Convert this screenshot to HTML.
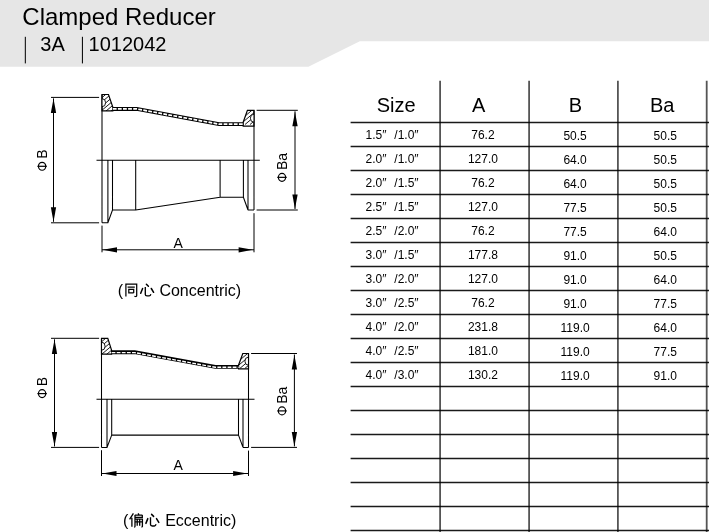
<!DOCTYPE html>
<html><head><meta charset="utf-8"><style>
html,body{margin:0;padding:0;background:#fff;width:709px;height:532px;overflow:hidden}
svg{position:absolute;left:0;top:0;display:block}
text{font-family:"Liberation Sans",sans-serif;fill:#000}
</style></head><body>
<svg width="709" height="532" viewBox="0 0 709 532">
<polygon points="0,0 709,0 709,41.2 359.8,41.2 308.4,66.8 0,66.8" fill="#e6e6e6"/>
<text x="22.3" y="25.2" font-size="24" fill="#111">Clamped Reducer</text>
<rect x="24.8" y="36.8" width="1.1" height="26.6" fill="#111"/>
<text x="40.3" y="51.2" font-size="20" fill="#111">3A</text>
<rect x="81.9" y="36.8" width="1.1" height="26.6" fill="#111"/>
<text x="88.6" y="51.2" font-size="20" fill="#111">1012042</text>
<path d="M350.6 122.5H709 M350.6 146.5H709 M350.6 170.5H709 M350.6 194.5H709 M350.6 218.5H709 M350.6 242.5H709 M350.6 266.5H709 M350.6 290.5H709 M350.6 314.5H709 M350.6 338.5H709 M350.6 362.5H709 M350.6 386.5H709 M350.6 410.5H709 M350.6 434.5H709 M350.6 458.5H709 M350.6 482.5H709 M350.6 506.5H709 M350.6 530.5H709" stroke="#1a1a1a" stroke-width="1.3" fill="none"/>
<path d="M440.1 80.8V532 M529.1 80.8V532 M617.9 80.8V532 M706.7 80.8V532" stroke="#555" stroke-width="1.8" fill="none" style="mix-blend-mode:multiply"/>
<text x="396.2" y="112" font-size="20" text-anchor="middle">Size</text>
<text x="478.7" y="112" font-size="20" text-anchor="middle">A</text>
<text x="575.3" y="112" font-size="20" text-anchor="middle">B</text>
<text x="662.2" y="112" font-size="20" text-anchor="middle">Ba</text>
<text x="365.6" y="139.1" font-size="12">1.5″</text>
<text x="418.6" y="139.1" font-size="12" text-anchor="end">/1.0″</text>
<text x="482.9" y="139.1" font-size="12" text-anchor="middle">76.2</text>
<text x="575.1" y="140.3" font-size="12" text-anchor="middle">50.5</text>
<text x="665.3" y="140.3" font-size="12" text-anchor="middle">50.5</text>
<text x="365.6" y="163.1" font-size="12">2.0″</text>
<text x="418.6" y="163.1" font-size="12" text-anchor="end">/1.0″</text>
<text x="482.9" y="163.1" font-size="12" text-anchor="middle">127.0</text>
<text x="575.1" y="164.3" font-size="12" text-anchor="middle">64.0</text>
<text x="665.3" y="164.3" font-size="12" text-anchor="middle">50.5</text>
<text x="365.6" y="187.1" font-size="12">2.0″</text>
<text x="418.6" y="187.1" font-size="12" text-anchor="end">/1.5″</text>
<text x="482.9" y="187.1" font-size="12" text-anchor="middle">76.2</text>
<text x="575.1" y="188.3" font-size="12" text-anchor="middle">64.0</text>
<text x="665.3" y="188.3" font-size="12" text-anchor="middle">50.5</text>
<text x="365.6" y="211.1" font-size="12">2.5″</text>
<text x="418.6" y="211.1" font-size="12" text-anchor="end">/1.5″</text>
<text x="482.9" y="211.1" font-size="12" text-anchor="middle">127.0</text>
<text x="575.1" y="212.3" font-size="12" text-anchor="middle">77.5</text>
<text x="665.3" y="212.3" font-size="12" text-anchor="middle">50.5</text>
<text x="365.6" y="235.1" font-size="12">2.5″</text>
<text x="418.6" y="235.1" font-size="12" text-anchor="end">/2.0″</text>
<text x="482.9" y="235.1" font-size="12" text-anchor="middle">76.2</text>
<text x="575.1" y="236.3" font-size="12" text-anchor="middle">77.5</text>
<text x="665.3" y="236.3" font-size="12" text-anchor="middle">64.0</text>
<text x="365.6" y="259.1" font-size="12">3.0″</text>
<text x="418.6" y="259.1" font-size="12" text-anchor="end">/1.5″</text>
<text x="482.9" y="259.1" font-size="12" text-anchor="middle">177.8</text>
<text x="575.1" y="260.3" font-size="12" text-anchor="middle">91.0</text>
<text x="665.3" y="260.3" font-size="12" text-anchor="middle">50.5</text>
<text x="365.6" y="283.1" font-size="12">3.0″</text>
<text x="418.6" y="283.1" font-size="12" text-anchor="end">/2.0″</text>
<text x="482.9" y="283.1" font-size="12" text-anchor="middle">127.0</text>
<text x="575.1" y="284.3" font-size="12" text-anchor="middle">91.0</text>
<text x="665.3" y="284.3" font-size="12" text-anchor="middle">64.0</text>
<text x="365.6" y="307.1" font-size="12">3.0″</text>
<text x="418.6" y="307.1" font-size="12" text-anchor="end">/2.5″</text>
<text x="482.9" y="307.1" font-size="12" text-anchor="middle">76.2</text>
<text x="575.1" y="308.3" font-size="12" text-anchor="middle">91.0</text>
<text x="665.3" y="308.3" font-size="12" text-anchor="middle">77.5</text>
<text x="365.6" y="331.1" font-size="12">4.0″</text>
<text x="418.6" y="331.1" font-size="12" text-anchor="end">/2.0″</text>
<text x="482.9" y="331.1" font-size="12" text-anchor="middle">231.8</text>
<text x="575.1" y="332.3" font-size="12" text-anchor="middle">119.0</text>
<text x="665.3" y="332.3" font-size="12" text-anchor="middle">64.0</text>
<text x="365.6" y="355.1" font-size="12">4.0″</text>
<text x="418.6" y="355.1" font-size="12" text-anchor="end">/2.5″</text>
<text x="482.9" y="355.1" font-size="12" text-anchor="middle">181.0</text>
<text x="575.1" y="356.3" font-size="12" text-anchor="middle">119.0</text>
<text x="665.3" y="356.3" font-size="12" text-anchor="middle">77.5</text>
<text x="365.6" y="379.1" font-size="12">4.0″</text>
<text x="418.6" y="379.1" font-size="12" text-anchor="end">/3.0″</text>
<text x="482.9" y="379.1" font-size="12" text-anchor="middle">130.2</text>
<text x="575.1" y="380.3" font-size="12" text-anchor="middle">119.0</text>
<text x="665.3" y="380.3" font-size="12" text-anchor="middle">91.0</text>
<path d="M102.0 94.5H108.5L112.8 107.0V110.9H102.0Z M254.0 110.3H247.4L243.2 122.2V126.10000000000001H254.0Z" fill="#fff" stroke="#000" stroke-width="1.2"/>
<clipPath id="c0"><path d="M102.0 94.5H108.5L112.8 107.0V110.9H102.0Z M254.0 110.3H247.4L243.2 122.2V126.10000000000001H254.0Z"/></clipPath>
<path d="M-140.0 124.5L-104.3 94.5 M-135.0 124.5L-99.3 94.5 M-130.0 124.5L-94.3 94.5 M-125.0 124.5L-89.3 94.5 M-120.0 124.5L-84.3 94.5 M-115.0 124.5L-79.3 94.5 M-110.0 124.5L-74.3 94.5 M-105.0 124.5L-69.3 94.5 M-100.0 124.5L-64.3 94.5 M-95.0 124.5L-59.3 94.5 M-90.0 124.5L-54.3 94.5 M-85.0 124.5L-49.3 94.5 M-80.0 124.5L-44.3 94.5 M-75.0 124.5L-39.3 94.5 M-70.0 124.5L-34.3 94.5 M-65.0 124.5L-29.3 94.5 M-60.0 124.5L-24.3 94.5 M-55.0 124.5L-19.3 94.5 M-50.0 124.5L-14.3 94.5 M-45.0 124.5L-9.3 94.5 M-40.0 124.5L-4.3 94.5 M-35.0 124.5L0.7 94.5 M-30.0 124.5L5.7 94.5 M-25.0 124.5L10.7 94.5 M-20.0 124.5L15.7 94.5 M-15.0 124.5L20.7 94.5 M-10.0 124.5L25.7 94.5 M-5.0 124.5L30.7 94.5 M0.0 124.5L35.7 94.5 M5.0 124.5L40.7 94.5 M10.0 124.5L45.7 94.5 M15.0 124.5L50.7 94.5 M20.0 124.5L55.7 94.5 M25.0 124.5L60.7 94.5 M30.0 124.5L65.7 94.5 M35.0 124.5L70.7 94.5 M40.0 124.5L75.7 94.5 M45.0 124.5L80.7 94.5 M50.0 124.5L85.7 94.5 M55.0 124.5L90.7 94.5 M60.0 124.5L95.7 94.5 M65.0 124.5L100.7 94.5 M70.0 124.5L105.7 94.5 M75.0 124.5L110.7 94.5 M80.0 124.5L115.7 94.5 M85.0 124.5L120.7 94.5 M90.0 124.5L125.7 94.5 M95.0 124.5L130.7 94.5 M100.0 124.5L135.7 94.5 M105.0 124.5L140.7 94.5 M110.0 124.5L145.7 94.5 M115.0 124.5L150.7 94.5 M120.0 124.5L155.7 94.5 M125.0 124.5L160.7 94.5 M130.0 124.5L165.7 94.5 M135.0 124.5L170.7 94.5 M140.0 124.5L175.7 94.5 M145.0 124.5L180.7 94.5 M150.0 124.5L185.7 94.5 M155.0 124.5L190.7 94.5 M160.0 124.5L195.7 94.5 M165.0 124.5L200.7 94.5 M170.0 124.5L205.7 94.5 M175.0 124.5L210.7 94.5 M180.0 124.5L215.7 94.5 M185.0 124.5L220.7 94.5 M190.0 124.5L225.7 94.5 M195.0 124.5L230.7 94.5 M200.0 124.5L235.7 94.5 M205.0 124.5L240.7 94.5 M210.0 124.5L245.7 94.5 M215.0 124.5L250.7 94.5 M220.0 124.5L255.7 94.5 M225.0 124.5L260.7 94.5 M230.0 124.5L265.7 94.5 M235.0 124.5L270.7 94.5 M240.0 124.5L275.7 94.5 M245.0 124.5L280.7 94.5 M250.0 124.5L285.7 94.5 M255.0 124.5L290.7 94.5 M260.0 124.5L295.7 94.5 M265.0 124.5L300.7 94.5 M270.0 124.5L305.7 94.5 M275.0 124.5L310.7 94.5 M280.0 124.5L315.7 94.5 M285.0 124.5L320.7 94.5 M290.0 124.5L325.7 94.5 M295.0 124.5L330.7 94.5 M300.0 124.5L335.7 94.5 M305.0 124.5L340.7 94.5 M310.0 124.5L345.7 94.5 M315.0 124.5L350.7 94.5 M320.0 124.5L355.7 94.5 M325.0 124.5L360.7 94.5 M330.0 124.5L365.7 94.5 M335.0 124.5L370.7 94.5 M340.0 124.5L375.7 94.5 M345.0 124.5L380.7 94.5 M350.0 124.5L385.7 94.5 M355.0 124.5L390.7 94.5 M360.0 124.5L395.7 94.5 M365.0 124.5L400.7 94.5 M370.0 124.5L405.7 94.5 M375.0 124.5L410.7 94.5 M380.0 124.5L415.7 94.5 M385.0 124.5L420.7 94.5 M390.0 124.5L425.7 94.5 M395.0 124.5L430.7 94.5 M400.0 124.5L435.7 94.5 M405.0 124.5L440.7 94.5 M410.0 124.5L445.7 94.5 M415.0 124.5L450.7 94.5 M420.0 124.5L455.7 94.5 M425.0 124.5L460.7 94.5 M430.0 124.5L465.7 94.5 M435.0 124.5L470.7 94.5 M440.0 124.5L475.7 94.5 M445.0 124.5L480.7 94.5 M450.0 124.5L485.7 94.5 M455.0 124.5L490.7 94.5" clip-path="url(#c0)" stroke="#000" stroke-width="0.9"/>
<path d="M102.0 98.69999999999999 A3.6 4 0 0 1 102.0 106.69999999999999" fill="#fff" stroke="#000" stroke-width="0.9"/>
<path d="M254.0 114.19999999999999 A3.6 4 0 0 0 254.0 122.19999999999999" fill="#fff" stroke="#000" stroke-width="0.9"/>
<path d="M112.8 108.95H136.7L219.0 124.15H243.2" fill="none" stroke="#000" stroke-width="3.9"/>
<path d="M112.8 108.95H136.7L219.0 124.15H243.2" transform="translate(0 0.0)" fill="none" stroke="#fff" stroke-width="1.7" stroke-dasharray="3.8 1.3"/>
<path d="M102.0 94.5V222.8 M254.0 110.3V210.0 M96.5 160.3H259.8 M107.9 160.3V222.8 M102.0 222.8H107.9L112.5 210.0 M112.5 160.3V210.0H135.7V160.3 M135.7 210.0L220.1 197.2 M220.1 160.3V197.2H243.4V160.3 M243.4 197.2L248.0 210.0V160.3 M248.0 210.0H254.0" fill="none" stroke="#000" stroke-width="1.05"/>
<path d="M51 97.4H99.1 M51 222.8H99.1 M53.5 98.4V221.8 M256.6 110.3H297.8 M256.6 210.0H297.8 M295.0 111.3V209.0 M102.0 225.60000000000002V252.3 M254.0 213.2V252.3 M102.0 249.8H254.0" fill="none" stroke="#000" stroke-width="1.0"/>
<polygon points="53.5,98.5 50.85,113.0 56.15,113.0" fill="#000"/>
<polygon points="53.5,221.8 50.85,207.3 56.15,207.3" fill="#000"/>
<polygon points="295.0,111.7 292.35,126.2 297.65,126.2" fill="#000"/>
<polygon points="295.0,209.0 292.35,194.5 297.65,194.5" fill="#000"/>
<polygon points="102.8,249.8 117.0,247.20000000000002 117.0,252.4" fill="#000"/>
<polygon points="252.8,249.8 238.60000000000002,247.20000000000002 238.60000000000002,252.4" fill="#000"/>
<text transform="translate(47.1 158.8) rotate(-90)" font-size="14">B</text>
<text transform="translate(286.7 170.1) rotate(-90)" font-size="14">Ba</text>
<ellipse cx="42.1" cy="166.3" rx="3.65" ry="3.95" fill="none" stroke="#000" stroke-width="1.2"/>
<path d="M37.4 166.3H46.800000000000004" stroke="#000" stroke-width="1.2"/>
<ellipse cx="282.0" cy="177.35" rx="3.65" ry="3.95" fill="none" stroke="#000" stroke-width="1.2"/>
<path d="M277.3 177.35H286.7" stroke="#000" stroke-width="1.2"/>
<text x="178.2" y="248" font-size="14" text-anchor="middle">A</text>
<path d="M101.5 338.3H107.8L111.6 350.25V354.15H101.5Z M248.5 353.5H242.8L238.6 364.95V368.84999999999997H248.5Z" fill="#fff" stroke="#000" stroke-width="1.2"/>
<clipPath id="c1"><path d="M101.5 338.3H107.8L111.6 350.25V354.15H101.5Z M248.5 353.5H242.8L238.6 364.95V368.84999999999997H248.5Z"/></clipPath>
<path d="M-140.0 368.3L-104.3 338.3 M-135.0 368.3L-99.3 338.3 M-130.0 368.3L-94.3 338.3 M-125.0 368.3L-89.3 338.3 M-120.0 368.3L-84.3 338.3 M-115.0 368.3L-79.3 338.3 M-110.0 368.3L-74.3 338.3 M-105.0 368.3L-69.3 338.3 M-100.0 368.3L-64.3 338.3 M-95.0 368.3L-59.3 338.3 M-90.0 368.3L-54.3 338.3 M-85.0 368.3L-49.3 338.3 M-80.0 368.3L-44.3 338.3 M-75.0 368.3L-39.3 338.3 M-70.0 368.3L-34.3 338.3 M-65.0 368.3L-29.3 338.3 M-60.0 368.3L-24.3 338.3 M-55.0 368.3L-19.3 338.3 M-50.0 368.3L-14.3 338.3 M-45.0 368.3L-9.3 338.3 M-40.0 368.3L-4.3 338.3 M-35.0 368.3L0.7 338.3 M-30.0 368.3L5.7 338.3 M-25.0 368.3L10.7 338.3 M-20.0 368.3L15.7 338.3 M-15.0 368.3L20.7 338.3 M-10.0 368.3L25.7 338.3 M-5.0 368.3L30.7 338.3 M0.0 368.3L35.7 338.3 M5.0 368.3L40.7 338.3 M10.0 368.3L45.7 338.3 M15.0 368.3L50.7 338.3 M20.0 368.3L55.7 338.3 M25.0 368.3L60.7 338.3 M30.0 368.3L65.7 338.3 M35.0 368.3L70.7 338.3 M40.0 368.3L75.7 338.3 M45.0 368.3L80.7 338.3 M50.0 368.3L85.7 338.3 M55.0 368.3L90.7 338.3 M60.0 368.3L95.7 338.3 M65.0 368.3L100.7 338.3 M70.0 368.3L105.7 338.3 M75.0 368.3L110.7 338.3 M80.0 368.3L115.7 338.3 M85.0 368.3L120.7 338.3 M90.0 368.3L125.7 338.3 M95.0 368.3L130.7 338.3 M100.0 368.3L135.7 338.3 M105.0 368.3L140.7 338.3 M110.0 368.3L145.7 338.3 M115.0 368.3L150.7 338.3 M120.0 368.3L155.7 338.3 M125.0 368.3L160.7 338.3 M130.0 368.3L165.7 338.3 M135.0 368.3L170.7 338.3 M140.0 368.3L175.7 338.3 M145.0 368.3L180.7 338.3 M150.0 368.3L185.7 338.3 M155.0 368.3L190.7 338.3 M160.0 368.3L195.7 338.3 M165.0 368.3L200.7 338.3 M170.0 368.3L205.7 338.3 M175.0 368.3L210.7 338.3 M180.0 368.3L215.7 338.3 M185.0 368.3L220.7 338.3 M190.0 368.3L225.7 338.3 M195.0 368.3L230.7 338.3 M200.0 368.3L235.7 338.3 M205.0 368.3L240.7 338.3 M210.0 368.3L245.7 338.3 M215.0 368.3L250.7 338.3 M220.0 368.3L255.7 338.3 M225.0 368.3L260.7 338.3 M230.0 368.3L265.7 338.3 M235.0 368.3L270.7 338.3 M240.0 368.3L275.7 338.3 M245.0 368.3L280.7 338.3 M250.0 368.3L285.7 338.3 M255.0 368.3L290.7 338.3 M260.0 368.3L295.7 338.3 M265.0 368.3L300.7 338.3 M270.0 368.3L305.7 338.3 M275.0 368.3L310.7 338.3 M280.0 368.3L315.7 338.3 M285.0 368.3L320.7 338.3 M290.0 368.3L325.7 338.3 M295.0 368.3L330.7 338.3 M300.0 368.3L335.7 338.3 M305.0 368.3L340.7 338.3 M310.0 368.3L345.7 338.3 M315.0 368.3L350.7 338.3 M320.0 368.3L355.7 338.3 M325.0 368.3L360.7 338.3 M330.0 368.3L365.7 338.3 M335.0 368.3L370.7 338.3 M340.0 368.3L375.7 338.3 M345.0 368.3L380.7 338.3 M350.0 368.3L385.7 338.3 M355.0 368.3L390.7 338.3 M360.0 368.3L395.7 338.3 M365.0 368.3L400.7 338.3 M370.0 368.3L405.7 338.3 M375.0 368.3L410.7 338.3 M380.0 368.3L415.7 338.3 M385.0 368.3L420.7 338.3 M390.0 368.3L425.7 338.3 M395.0 368.3L430.7 338.3 M400.0 368.3L435.7 338.3 M405.0 368.3L440.7 338.3 M410.0 368.3L445.7 338.3 M415.0 368.3L450.7 338.3 M420.0 368.3L455.7 338.3 M425.0 368.3L460.7 338.3 M430.0 368.3L465.7 338.3 M435.0 368.3L470.7 338.3 M440.0 368.3L475.7 338.3 M445.0 368.3L480.7 338.3 M450.0 368.3L485.7 338.3 M455.0 368.3L490.7 338.3" clip-path="url(#c1)" stroke="#000" stroke-width="0.9"/>
<path d="M101.5 342.225 A3.6 4 0 0 1 101.5 350.225" fill="#fff" stroke="#000" stroke-width="0.9"/>
<path d="M248.5 357.175 A3.6 4 0 0 0 248.5 365.175" fill="#fff" stroke="#000" stroke-width="0.9"/>
<path d="M111.6 352.2H134.7L215.3 366.9H238.6" fill="none" stroke="#000" stroke-width="3.9"/>
<path d="M111.6 352.2H134.7L215.3 366.9H238.6" transform="translate(0 0.4)" fill="none" stroke="#fff" stroke-width="1.4" stroke-dasharray="3.8 1.3"/>
<path d="M101.5 338.3V447.4 M248.5 353.5V447.4 M96.5 399.2H254.5 M107.0 399.2V447.4 M101.5 447.4H107.0L111.7 435.1 M111.7 399.2V435.1H238.5V399.2 M238.5 435.1L243.0 447.4V399.2 M243.0 447.4H248.5" fill="none" stroke="#000" stroke-width="1.05"/>
<path d="M51 338.3H99.1 M51 447.4H99.1 M54.5 339.3V446.4 M251.1 353.5H297.0 M251.1 447.4H297.0 M294.4 354.5V446.4 M101.5 450.2V476.0 M248.5 450.59999999999997V476.0 M101.5 473.5H248.5" fill="none" stroke="#000" stroke-width="1.0"/>
<polygon points="54.5,339.40000000000003 51.85,353.90000000000003 57.15,353.90000000000003" fill="#000"/>
<polygon points="54.5,446.4 51.85,431.9 57.15,431.9" fill="#000"/>
<polygon points="294.4,354.9 291.75,369.4 297.04999999999995,369.4" fill="#000"/>
<polygon points="294.4,446.4 291.75,431.9 297.04999999999995,431.9" fill="#000"/>
<polygon points="102.3,473.5 116.5,470.9 116.5,476.1" fill="#000"/>
<polygon points="247.3,473.5 233.10000000000002,470.9 233.10000000000002,476.1" fill="#000"/>
<text transform="translate(46.9 386.3) rotate(-90)" font-size="14">B</text>
<text transform="translate(286.7 403.8) rotate(-90)" font-size="14">Ba</text>
<ellipse cx="42.1" cy="393.6" rx="3.65" ry="3.95" fill="none" stroke="#000" stroke-width="1.2"/>
<path d="M37.4 393.6H46.800000000000004" stroke="#000" stroke-width="1.2"/>
<ellipse cx="282.0" cy="410.9" rx="3.65" ry="3.95" fill="none" stroke="#000" stroke-width="1.2"/>
<path d="M277.3 410.9H286.7" stroke="#000" stroke-width="1.2"/>
<text x="178.2" y="469.5" font-size="14" text-anchor="middle">A</text>
<text x="117.7" y="295.5" font-size="16">(</text>
<text x="159.4" y="295.5" font-size="16">Concentric)</text>
<text x="123.1" y="525.5" font-size="16">(</text>
<text x="165.2" y="525.5" font-size="16">Eccentric)</text>
<path d="M125.9 283.4V296.6M125.3 284.1H136.7V295.6Q136.7 296.6 135.6 296.5L134.4 296.3M127.6 287.1H134.8M128.8 288.8V293.6M128.8 289.4H133.7V292.9M128.8 292.8H133.7" fill="none" stroke="#000" stroke-width="1.25"/>
<g transform="translate(0 0)"><path d="M142.6 288.5L140.7 293.3M146.4 284.3L148.4 286.3M151.3 288.5L153.6 292.3" fill="none" stroke="#000" stroke-width="1.5" stroke-linecap="round"/><path d="M145.3 287.1V294.5Q145.3 295.9 147.0 295.9H149.2Q150.3 295.9 150.9 294.2" fill="none" stroke="#000" stroke-width="1.35"/></g>
<g transform="translate(5.2 230.1)"><path d="M142.6 288.5L140.7 293.3M146.4 284.3L148.4 286.3M151.3 288.5L153.6 292.3" fill="none" stroke="#000" stroke-width="1.5" stroke-linecap="round"/><path d="M145.3 287.1V294.5Q145.3 295.9 147.0 295.9H149.2Q150.3 295.9 150.9 294.2" fill="none" stroke="#000" stroke-width="1.35"/></g>
<path d="M133.4 513.3L129.6 519.3M131.9 517.8V526.8M138.1 513.4L138.9 514.6M134.9 515.1H142.4M135.0 515.1V526.4Q134.9 527 134.3 527.3M135 517.4H142.3V515.1M134.9 519.1H142.4V526.2Q142.4 527 141.4 526.8M137.2 519.5V525.8M139.7 519.5V525.8M135 521.8H142.4" fill="none" stroke="#000" stroke-width="1.3"/>
</svg>
</body></html>
